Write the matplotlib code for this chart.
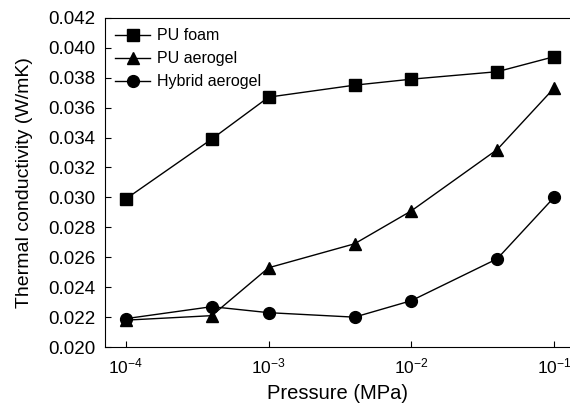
import numpy as np
import matplotlib.pyplot as plt
import matplotlib

matplotlib.rc('font', family='Liberation Sans')

pressure = [1e-4, 4e-4, 1e-3, 4e-3, 1e-2, 4e-2, 1e-1]
pu_foam = [0.0299, 0.0339, 0.0367, 0.0375, 0.0379, 0.0384, 0.0394]
pu_aerogel = [0.0218, 0.0221, 0.0253, 0.0269, 0.0291, 0.0332, 0.0373]
hybrid_aerogel = [0.0219, 0.0227, 0.0223, 0.0220, 0.0231, 0.0259, 0.0300]

fig = plt.figure(figsize=(5.7, 4.05), dpi=100)
ax = fig.add_axes([0.184, 0.143, 0.816, 0.813])

ax.plot(pressure, pu_foam, 'k-s', lw=1, ms=8, label='PU foam')
ax.plot(pressure, pu_aerogel, 'k-^', lw=1, ms=8, label='PU aerogel')
ax.plot(pressure, hybrid_aerogel, 'k-o', lw=1, ms=8.5, label='Hybrid aerogel')

ax.set_xscale('log')
ax.set_xlim(10**-4.147, 10**-0.888)
ax.set_ylim(0.020, 0.042)
ax.set_yticks(np.arange(0.020, 0.0421, 0.002))
ax.set_yticklabels(['%.3f' % v for v in np.arange(0.020, 0.0421, 0.002)])
ax.set_xticks([1e-4, 1e-3, 1e-2, 1e-1])
ax.set_xticklabels(['$\\mathregular{10^{-4}}$', '$\\mathregular{10^{-3}}$',
                    '$\\mathregular{10^{-2}}$', '$\\mathregular{10^{-1}}$'])
ax.xaxis.set_minor_locator(matplotlib.ticker.NullLocator())
ax.tick_params(direction='in', length=4, width=0.8, pad=7)
ax.tick_params(axis='y', labelsize=13.5)
ax.tick_params(axis='x', labelsize=12.5)
ax.spines['right'].set_visible(False)

ax.set_xlabel('Pressure (MPa)', fontsize=14.5, labelpad=5)
ax.set_ylabel('Thermal conductivity (W/mK)', fontsize=14, labelpad=10.5)
ax.legend(loc='upper left', frameon=False, fontsize=11.5, handlelength=2.2,
          borderaxespad=0.25, borderpad=0.4, labelspacing=0.5, handletextpad=0.4)

plt.savefig('out.png')
